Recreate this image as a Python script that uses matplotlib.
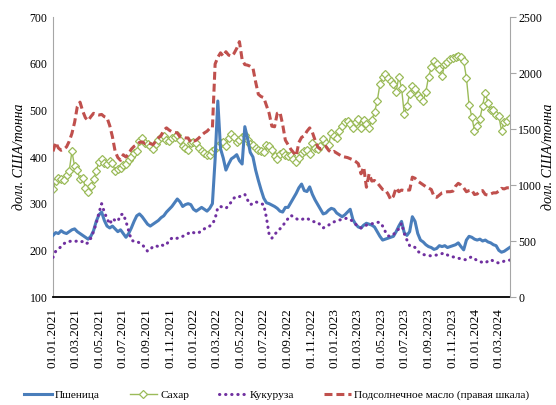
import matplotlib
matplotlib.use("Agg")
import matplotlib.pyplot as plt
import matplotlib.dates as mdates
import pandas as pd

plt.rcParams['font.family'] = ['Liberation Serif', 'DejaVu Serif']

dates = pd.date_range('2021-01-01', periods=170, freq='7D')

wheat = [232, 238, 236, 242, 238, 236, 240, 244, 246, 240, 236, 232, 228, 224, 230, 242, 262, 276, 282, 264,
         252, 248, 252, 246, 240, 244, 236, 228, 236, 248, 262, 274, 278, 272, 264, 256, 252, 256, 260, 264,
         270, 274, 282, 288, 294, 302, 310, 304, 294, 298, 300, 298, 288, 284, 288, 292, 288, 284, 290, 300,
         395, 520, 418, 398, 372, 385, 396, 400, 405, 392, 385, 465, 440, 410, 400, 372, 350, 330, 312, 302,
         300, 297, 294, 290, 284, 282, 292, 292, 302, 312, 322, 334, 342, 328, 326, 336, 320, 308, 298, 288,
         278, 280, 286, 290, 288, 280, 276, 272, 276, 282, 288, 266, 256, 250, 248, 254, 258, 256, 254, 250,
         240, 230, 222, 224, 226, 228, 230, 240, 252, 262, 238, 232, 240, 272, 262, 236, 222, 218, 212, 208,
         206, 202, 204, 210, 208, 210, 206, 208, 210, 212, 216, 208, 201, 222, 230, 228, 224, 222, 224, 220,
         222, 218, 216, 212, 210, 200, 196, 198, 202, 206]

sugar = [332, 348, 356, 352, 350, 362, 370, 412, 380, 372, 352, 355, 334, 326, 338, 352, 370, 390, 396, 388,
         386, 392, 388, 370, 374, 376, 382, 386, 394, 400, 408, 412, 434, 440, 430, 428, 424, 418, 428, 436,
         442, 446, 436, 434, 440, 442, 448, 436, 424, 420, 416, 430, 432, 430, 420, 412, 408, 404, 404, 412,
         418, 424, 430, 432, 424, 440, 450, 442, 432, 436, 442, 448, 436, 428, 426, 420, 416, 412, 410, 426,
         424, 416, 402, 396, 406, 410, 404, 402, 404, 396, 390, 398, 408, 412, 416, 406, 430, 420, 418, 424,
         438, 430, 426, 452, 446, 440, 456, 466, 474, 478, 470, 462, 476, 482, 462, 480, 470, 462, 480, 496,
         520, 556, 572, 578, 570, 562, 556, 540, 572, 548, 492, 510, 534, 552, 546, 532, 526, 520, 540, 572,
         592, 606, 600, 588, 574, 600, 604, 610, 612, 614, 616, 614, 606, 570, 512, 486, 456, 466, 482, 510,
         538, 516, 500, 500, 490, 488, 456, 476, 478, 484]

corn = [185, 198, 203, 208, 214, 218, 219, 220, 219, 220, 218, 219, 214, 216, 226, 240, 258, 280, 300, 282,
        268, 256, 268, 264, 262, 276, 278, 262, 242, 222, 219, 219, 216, 212, 206, 198, 202, 208, 210, 208,
        212, 210, 212, 222, 226, 224, 226, 228, 230, 233, 236, 240, 238, 236, 238, 242, 246, 250, 252, 256,
        268, 292, 294, 292, 290, 296, 304, 312, 316, 315, 318, 320, 308, 298, 300, 304, 302, 300, 298, 270,
        234, 226, 234, 240, 246, 252, 261, 268, 275, 272, 268, 265, 266, 268, 269, 265, 262, 261, 260, 254,
        248, 251, 254, 258, 261, 263, 265, 266, 268, 269, 266, 262, 256, 251, 248, 250, 254, 256, 257, 258,
        260, 260, 252, 240, 231, 230, 234, 240, 246, 258, 236, 222, 210, 210, 206, 198, 194, 191, 190, 189,
        188, 189, 190, 191, 193, 194, 190, 187, 186, 185, 183, 182, 180, 180, 184, 186, 182, 178, 176, 174,
        173, 177, 180, 177, 174, 173, 174, 177, 178, 179]

sunoil = [1300, 1380, 1330, 1310, 1320, 1340, 1390, 1460, 1560, 1700, 1740, 1660, 1600, 1575, 1610, 1640, 1630, 1625, 1630, 1610,
          1600, 1530, 1430, 1300, 1245, 1220, 1270, 1250, 1280, 1320, 1345, 1360, 1380, 1385, 1370, 1375, 1370, 1360, 1390, 1420,
          1440, 1490, 1510, 1490, 1475, 1470, 1465, 1430, 1425, 1420, 1420, 1380, 1390, 1400, 1420, 1445, 1465, 1480, 1505, 1510,
          2080, 2140, 2180, 2150, 2190, 2160, 2150, 2175, 2220, 2280, 2120, 2075, 2070, 2060, 2045, 1920, 1810, 1790, 1780, 1710,
          1640, 1525, 1520, 1640, 1650, 1540, 1400, 1360, 1320, 1290, 1260, 1380, 1425, 1440, 1480, 1510, 1470, 1400, 1340, 1320,
          1330, 1345, 1310, 1290, 1300, 1285, 1270, 1255, 1250, 1245, 1235, 1225, 1210, 1190, 1100, 1160, 980, 1100, 1035, 1040,
          1020, 990, 960, 955, 920, 870, 900, 975, 940, 955, 950, 955, 955, 1070, 1060, 1035, 1018, 1000, 985, 973,
          960, 900, 890, 910, 930, 935, 940, 940, 945, 990, 1015, 1000, 975, 940, 950, 955, 915, 920, 945, 950,
          915, 910, 920, 930, 930, 945, 970, 965, 975, 975]

left_ticks = [100, 200, 300, 400, 500, 600, 700]
right_ticks = [0, 500, 1000, 1500, 2000, 2500]
tick_dates = pd.date_range('2021-01-01', '2024-03-01', freq='2MS')
tick_labels = [d.strftime('%d.%m.%Y') for d in tick_dates]

names = ['Пшеница', 'Сахар', 'Кукуруза', 'Подсолнечное масло (правая шкала)']
ylabel = 'долл. США/тонна'

c_wheat = '#4A7EBB'
c_sugar = '#9BBB59'
c_corn = '#7030A0'
c_oil = '#C0504D'

fig = plt.figure(figsize=(5.56, 4.05), dpi=100)
ax = fig.add_axes([53/556, 1-297/405, (510-53)/556, 280/405])
ax2 = ax.twinx()

l1, = ax.plot(dates, wheat, color=c_wheat, lw=2.2, solid_joinstyle='round', label=names[0], zorder=3)
l2, = ax.plot(dates, sugar, color=c_sugar, lw=1.0, marker='D', markersize=4.0,
              markerfacecolor='white', markeredgecolor=c_sugar, markeredgewidth=0.9, label=names[1], zorder=2)
l3, = ax.plot(dates, corn, color=c_corn, lw=2.2, linestyle=(0, (0.1, 1.9)), dash_capstyle='round',
              label=names[2], zorder=4)
l4, = ax2.plot(dates, sunoil, color=c_oil, lw=2.2, linestyle=(0, (2.6, 1.3)), dash_capstyle='butt',
               label=names[3])

ax.set_ylim(100, 700)
ax2.set_ylim(0, 2500)
ax.set_yticks(left_ticks)
ax2.set_yticks(right_ticks)
ax.set_xlim(pd.Timestamp('2021-01-01'), pd.Timestamp('2024-03-30'))
ax.set_xticks(tick_dates)
ax.set_xticklabels(tick_labels, rotation=90, fontsize=9.5)

for a in (ax, ax2):
    a.spines['top'].set_visible(False)
ax.spines['left'].set_color('#A6A6A6')
ax2.spines['left'].set_visible(False)
ax2.spines['right'].set_color('#A6A6A6')
ax.spines['bottom'].set_color('black')
ax.spines['bottom'].set_linewidth(1.3)
ax2.spines['bottom'].set_visible(False)
ax.spines['right'].set_visible(False)

ax.tick_params(axis='y', length=0, labelsize=8.5, pad=4)
ax.tick_params(axis='x', length=0, pad=8)
ax2.tick_params(axis='y', length=4, color='#A6A6A6', labelsize=8.5, pad=2)

fig.text(20/556, 1-157/405, ylabel, rotation=90, ha='center', va='center', fontsize=10, style='italic')
fig.text(549/556, 1-157/405, ylabel, rotation=90, ha='center', va='center', fontsize=10, style='italic')

fig.legend(handles=[l1, l2, l3, l4], labels=names, loc='center', bbox_to_anchor=(277/556, 1-395/405),
           ncol=4, frameon=False, fontsize=8.2, handlelength=2.4, columnspacing=2.6, handletextpad=0.3,
           borderaxespad=0, borderpad=0)

fig.savefig('out.png', dpi=100)
